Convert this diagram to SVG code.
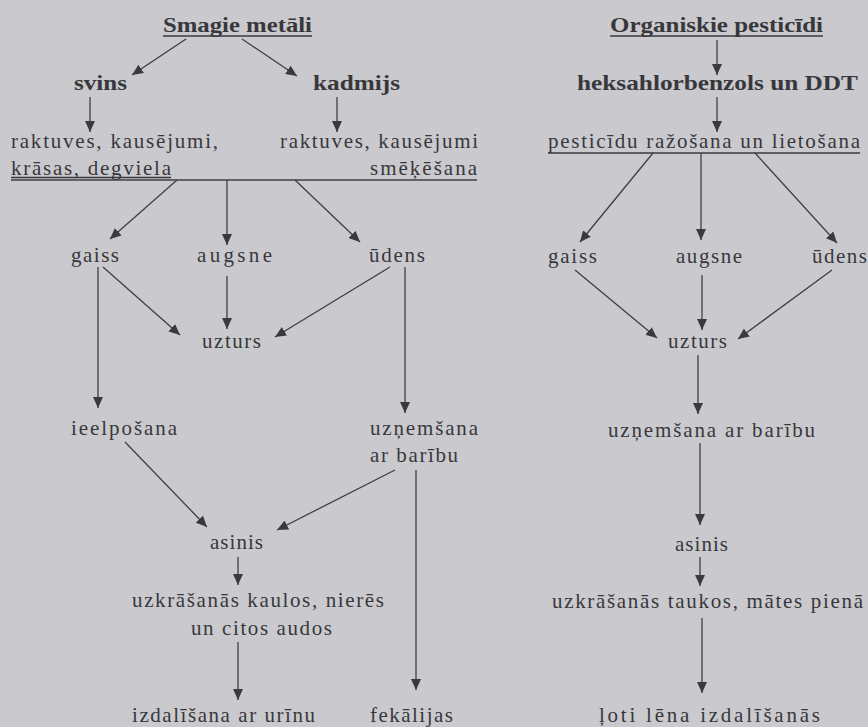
<svg xmlns="http://www.w3.org/2000/svg" width="868" height="727" viewBox="0 0 868 727">
<defs>
<marker id="ah" markerUnits="userSpaceOnUse" markerWidth="12" markerHeight="10" refX="11" refY="5" orient="auto">
<path d="M0,0 L11,5 L0,10 Z" fill="#3a3a3e"/>
</marker>
<style>
text{font-family:"Liberation Serif","Times New Roman",serif;fill:#38383c;font-size:21px}
.b{font-weight:bold;font-size:22px}
.c line{stroke:#3f3f43;stroke-width:1.3}
.c .a{marker-end:url(#ah)}
.u{stroke:#3a3a3e;stroke-width:1.5}
</style>
</defs>
<rect width="868" height="727" fill="#cacace"/>

<g id="n-smagie"><text class="b" x="163" y="32" textLength="149" lengthAdjust="spacingAndGlyphs">Smagie metāli</text><line class="u" x1="163" y1="36" x2="312" y2="36"/></g>
<g id="n-svins"><text class="b" x="74" y="90" textLength="53" lengthAdjust="spacingAndGlyphs">svins</text></g>
<g id="n-kadmijs"><text class="b" x="313" y="90" textLength="87" lengthAdjust="spacingAndGlyphs">kadmijs</text></g>
<g id="n-svins-src"><text x="11" y="148" textLength="207" lengthAdjust="spacing">raktuves, kausējumi,</text><text x="11" y="175" textLength="160" lengthAdjust="spacing">krāsas, degviela</text><line class="u" x1="11" y1="177.5" x2="171" y2="177.5"/></g>
<g id="n-kad-src"><text x="280" y="148" textLength="198" lengthAdjust="spacing">raktuves, kausējumi</text><text x="370" y="175" textLength="107" lengthAdjust="spacing">smēķēšana</text></g>
<g id="n-gaiss1"><text x="71" y="262" textLength="48" lengthAdjust="spacing">gaiss</text></g>
<g id="n-augsne1"><text x="197" y="262" textLength="75" lengthAdjust="spacing">augsne</text></g>
<g id="n-udens1"><text x="369" y="262" textLength="56" lengthAdjust="spacing">ūdens</text></g>
<g id="n-uzturs1"><text x="202" y="348" textLength="59" lengthAdjust="spacing">uzturs</text></g>
<g id="n-ieelposana"><text x="71" y="435" textLength="106" lengthAdjust="spacing">ieelpošana</text></g>
<g id="n-uznemsana1"><text x="370" y="435" textLength="108" lengthAdjust="spacing">uzņemšana</text><text x="370" y="462" textLength="88" lengthAdjust="spacing">ar barību</text></g>
<g id="n-asinis1"><text x="210" y="549" textLength="53" lengthAdjust="spacing">asinis</text></g>
<g id="n-uzkr1"><text x="132" y="607" textLength="252" lengthAdjust="spacing">uzkrāšanās kaulos, nierēs</text><text x="191" y="635" textLength="141" lengthAdjust="spacing">un citos audos</text></g>
<g id="n-izdal"><text x="132" y="722" textLength="183" lengthAdjust="spacing">izdalīšana ar urīnu</text></g>
<g id="n-fekal"><text x="370" y="722" textLength="83" lengthAdjust="spacing">fekālijas</text></g>

<g id="n-org"><text class="b" x="610" y="32" textLength="213" lengthAdjust="spacingAndGlyphs">Organiskie pesticīdi</text><line class="u" x1="610" y1="36" x2="823" y2="36"/></g>
<g id="n-heks"><text class="b" x="577" y="90" textLength="281" lengthAdjust="spacingAndGlyphs">heksahlorbenzols un DDT</text></g>
<g id="n-pest"><text x="548" y="148" textLength="312" lengthAdjust="spacing">pesticīdu ražošana un lietošana</text><line class="u" x1="548" y1="153" x2="860" y2="153"/></g>
<g id="n-gaiss2"><text x="548" y="263" textLength="49" lengthAdjust="spacing">gaiss</text></g>
<g id="n-augsne2"><text x="676" y="263" textLength="66" lengthAdjust="spacing">augsne</text></g>
<g id="n-udens2"><text x="812" y="263" textLength="55" lengthAdjust="spacing">ūdens</text></g>
<g id="n-uzturs2"><text x="668" y="348" textLength="59" lengthAdjust="spacing">uzturs</text></g>
<g id="n-uznemsana2"><text x="608" y="437" textLength="207" lengthAdjust="spacing">uzņemšana ar barību</text></g>
<g id="n-asinis2"><text x="675" y="551" textLength="53" lengthAdjust="spacing">asinis</text></g>
<g id="n-uzkr2"><text x="552" y="608" textLength="311" lengthAdjust="spacing">uzkrāšanās taukos, mātes pienā</text></g>
<g id="n-loti"><text x="599" y="722" textLength="221" lengthAdjust="spacing">ļoti lēna izdalīšanās</text></g>

<g id="connectors" class="c">
<line class="a" x1="186" y1="39" x2="132" y2="75"/>
<line class="a" x1="242" y1="39" x2="297" y2="76"/>
<line class="a" x1="90" y1="97" x2="90" y2="132"/>
<line class="a" x1="337" y1="97" x2="337" y2="132"/>
<line x1="11" y1="180" x2="477" y2="180"/>
<line class="a" x1="177" y1="180" x2="110" y2="239"/>
<line class="a" x1="227" y1="180" x2="227" y2="245"/>
<line class="a" x1="295" y1="180" x2="360" y2="242"/>
<line class="a" x1="103" y1="267" x2="180" y2="335"/>
<line class="a" x1="227" y1="276" x2="227" y2="329"/>
<line class="a" x1="390" y1="267" x2="275" y2="337"/>
<line class="a" x1="98" y1="267" x2="98" y2="408"/>
<line class="a" x1="405" y1="267" x2="405" y2="413"/>
<line class="a" x1="125" y1="442" x2="207" y2="527"/>
<line class="a" x1="395" y1="470" x2="277" y2="530"/>
<line class="a" x1="416" y1="470" x2="416" y2="690"/>
<line class="a" x1="238" y1="557" x2="238" y2="585"/>
<line class="a" x1="238" y1="642" x2="238" y2="700"/>

<line class="a" x1="717" y1="40" x2="717" y2="75"/>
<line class="a" x1="717" y1="97" x2="717" y2="132"/>
<line class="a" x1="653" y1="153" x2="580" y2="242"/>
<line class="a" x1="701" y1="153" x2="701" y2="240"/>
<line class="a" x1="755" y1="153" x2="837" y2="243"/>
<line class="a" x1="575" y1="270" x2="657" y2="338"/>
<line class="a" x1="702" y1="275" x2="702" y2="330"/>
<line class="a" x1="832" y1="270" x2="738" y2="339"/>
<line class="a" x1="698" y1="355" x2="698" y2="414"/>
<line class="a" x1="700" y1="443" x2="700" y2="525"/>
<line class="a" x1="700" y1="557" x2="700" y2="586"/>
<line class="a" x1="702" y1="618" x2="702" y2="693"/>
</g>
</svg>
